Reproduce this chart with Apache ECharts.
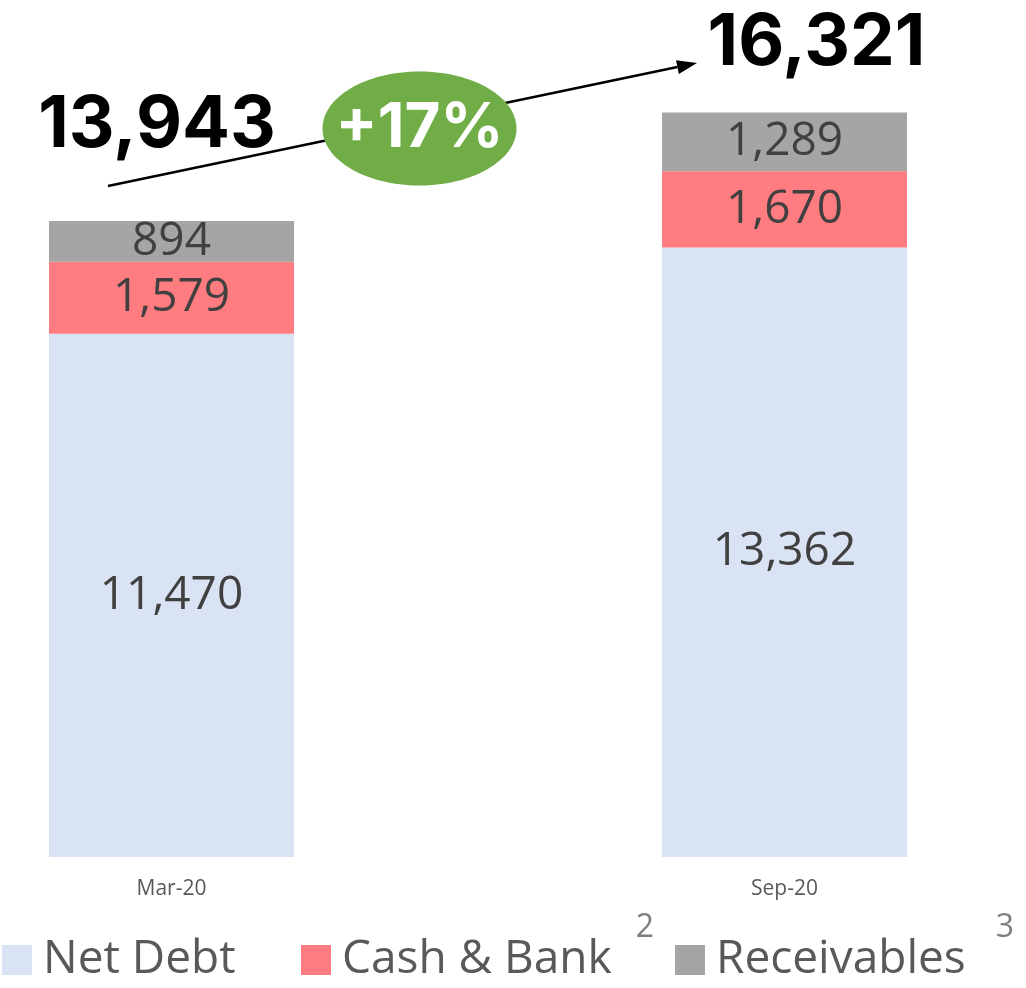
<!DOCTYPE html>
<html>
<head>
<meta charset="utf-8">
<script src="https://cdn.jsdelivr.net/npm/echarts@6/dist/echarts.min.js"></script>
<style>
  html, body { margin: 0; padding: 0; background: #ffffff; }
  #chart { width: 1026px; height: 988px; }
</style>
</head>
<body>
<div id="chart"></div>
<script>
// Period columns
const categories = ['Mar-20', 'Sep-20'];

// Stacked components of the total
const netDebt = [11470, 13362];
const cashBank = [1579, 1670];
const receivables = [894, 1289];

// Legend names and their footnote markers
const seriesNames = ['Net Debt', 'Cash & Bank', 'Receivables'];
const footnotes = ['', '2', '3'];

const colors = ['#DAE3F3', '#FF7C80', '#A5A5A5'];

// Totals on top of each column
const totals = categories.map((_, i) => netDebt[i] + cashBank[i] + receivables[i]);
const growthPct = Math.round((totals[1] / totals[0] - 1) * 100);

const fmt = v => Number(v).toLocaleString('en-US');
const bodyFont = '"Open Sans", "Noto Sans", sans-serif';
const boldFont = 'Inter, "Noto Sans", sans-serif';

const chart = echarts.init(document.getElementById('chart'), null, { renderer: 'canvas' });

function barSeries(name, values, color) {
  return {
    name: name,
    type: 'bar',
    stack: 'total',
    barWidth: 245,
    data: values,
    itemStyle: { color: color },
    label: {
      show: true,
      position: 'inside',
      formatter: p => fmt(p.value),
      fontFamily: bodyFont,
      fontSize: 46,
      color: '#404040'
    }
  };
}

// Offsets (in pixels) of each total label from its column top
const totalLabelOffsets = [[-14.5, -95], [32, -69]];

function legendFor(idx, left, top) {
  return {
    data: [seriesNames[idx]],
    left: left,
    top: top,
    padding: 0,
    itemWidth: 30,
    itemHeight: 30,
    icon: 'rect',
    selectedMode: false,
    formatter: name => {
      const sup = footnotes[seriesNames.indexOf(name)];
      return '{n|' + name + '}' + (sup ? '{s|' + sup + '}' : '');
    },
    textStyle: {
      rich: {
        n: {
          fontFamily: bodyFont,
          fontSize: 46,
          color: '#595959',
          lineHeight: 96,
          padding: [0, 0, 0, 6]
        },
        s: {
          fontFamily: bodyFont,
          fontSize: 32,
          color: '#7F7F7F',
          lineHeight: 30,
          verticalAlign: 'top',
          padding: [0, 0, 0, idx === 1 ? 24 : 30]
        }
      }
    }
  };
}

chart.setOption({
  animation: false,
  backgroundColor: '#ffffff',
  grid: { left: 171.5, right: 241.5, top: 36, bottom: 131 },
  xAxis: {
    type: 'category',
    data: categories,
    boundaryGap: false,
    axisLine: { show: false },
    axisTick: { show: false },
    axisLabel: {
      margin: 22,
      fontFamily: bodyFont,
      fontSize: 21,
      color: '#595959'
    }
  },
  yAxis: {
    type: 'value',
    min: 0,
    max: 18000,
    show: false,
    splitLine: { show: false }
  },
  legend: [legendFor(0, 2, 937), legendFor(1, 301, 912), legendFor(2, 675, 912)],
  series: [
    barSeries(seriesNames[0], netDebt, colors[0]),
    barSeries(seriesNames[1], cashBank, colors[1]),
    barSeries(seriesNames[2], receivables, colors[2]),
    {
      name: 'Total',
      type: 'scatter',
      symbolSize: 0,
      z: 5,
      data: totals.map((v, i) => ({
        value: [categories[i], v],
        label: { offset: totalLabelOffsets[i], color: '#000000' }
      })),
      label: {
        show: true,
        position: 'inside',
        formatter: p => fmt(p.value[1]),
        fontFamily: boldFont,
        fontWeight: 700,
        fontSize: 71,
        color: '#000000',
        opacity: 1
      }
    }
  ]
});

// Growth arrow between the two totals, with the percentage badge on it
const p0 = chart.convertToPixel({ gridIndex: 0 }, [categories[0], totals[0]]);
const p1 = chart.convertToPixel({ gridIndex: 0 }, [categories[1], totals[1]]);
const a0 = [p0[0] - 63.5, p0[1] - 35];
const a1 = [p1[0] - 87.5, p1[1] - 49.6];
const ang = Math.atan2(a1[1] - a0[1], a1[0] - a0[0]);
const headLen = 20, headHalf = 7;
const base = [a1[0] - headLen * Math.cos(ang), a1[1] - headLen * Math.sin(ang)];
const nx = -Math.sin(ang), ny = Math.cos(ang);
const mid = [(a0[0] + a1[0]) / 2 + 17, (a0[1] + a1[1]) / 2 + 4];

chart.setOption({
  graphic: [
    {
      type: 'line',
      shape: { x1: a0[0], y1: a0[1], x2: base[0], y2: base[1] },
      style: { stroke: '#000000', lineWidth: 2.5 },
      z: 10
    },
    {
      type: 'polygon',
      shape: {
        points: [
          a1,
          [base[0] + nx * headHalf, base[1] + ny * headHalf],
          [base[0] - nx * headHalf, base[1] - ny * headHalf]
        ]
      },
      style: { fill: '#000000' },
      z: 10
    },
    {
      type: 'ellipse',
      shape: { cx: mid[0], cy: mid[1], rx: 97, ry: 57 },
      style: { fill: '#70AD47' },
      z: 11
    },
    {
      type: 'text',
      x: mid[0],
      y: mid[1],
      style: {
        text: '+' + growthPct + '%',
        fill: '#ffffff',
        font: '700 62px ' + boldFont,
        align: 'center',
        verticalAlign: 'middle'
      },
      z: 12
    }
  ]
});
</script>
</body>
</html>
